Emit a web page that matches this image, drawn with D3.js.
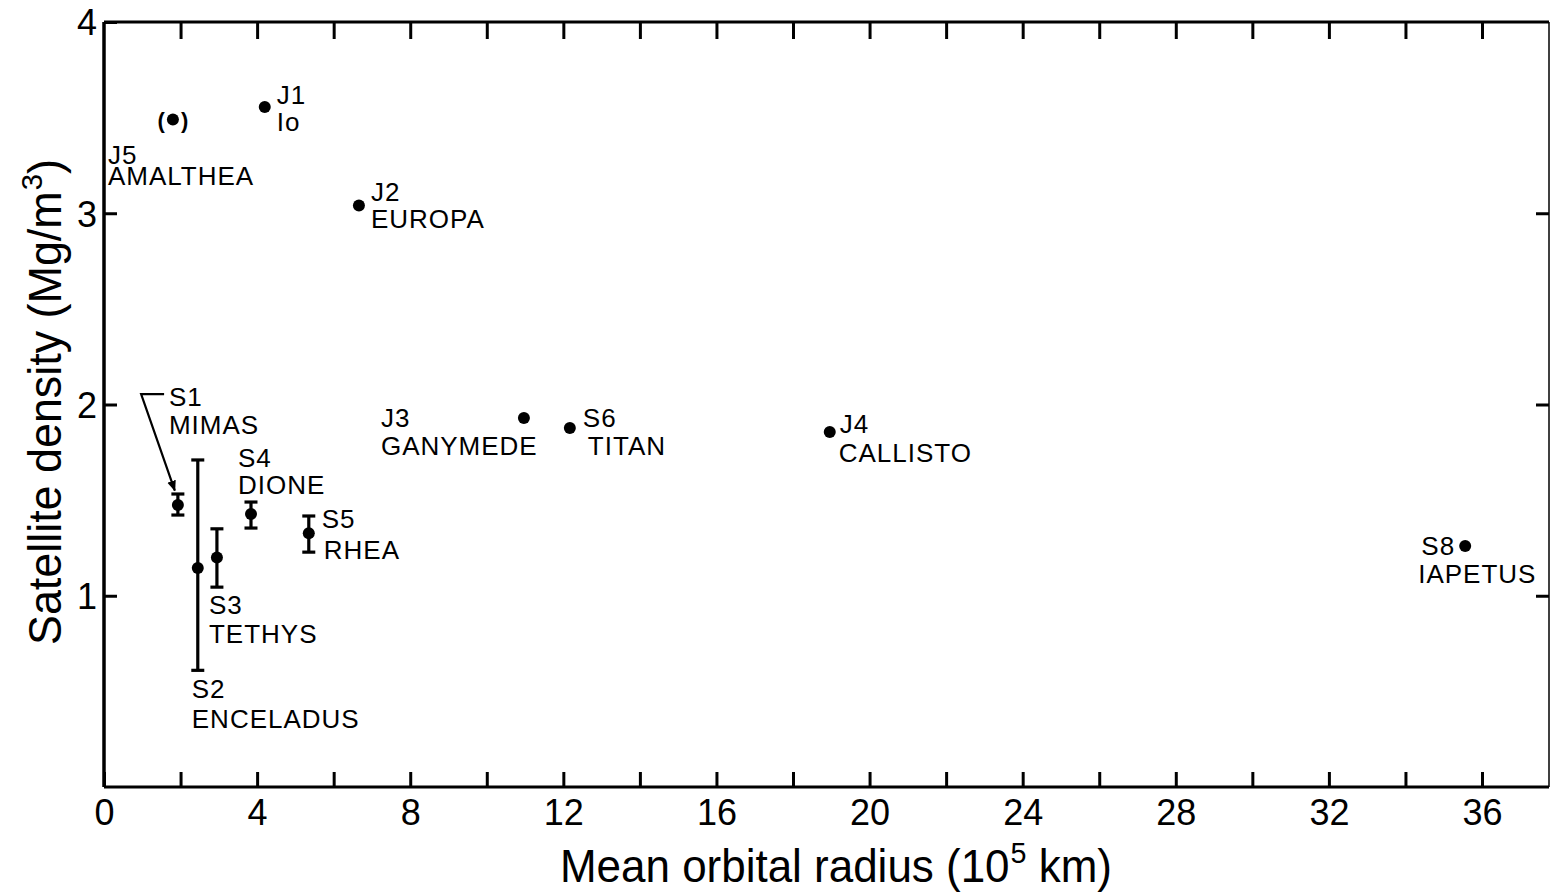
<!DOCTYPE html>
<html><head><meta charset="utf-8">
<script src="https://cdn.jsdelivr.net/npm/d3@7"></script>
<style>
html,body{margin:0;padding:0;background:#fff;}
svg{display:block;font-family:"Liberation Sans",Arial,sans-serif;}
svg text{white-space:pre;}
</style></head>
<body><svg id="chart" width="1551" height="894"></svg>
<script>
// ---- data ----
const codes   = ["J5","J1","J2","J3","J4","S1","S2","S3","S4","S5","S6","S8"];
const names   = ["AMALTHEA","Io","EUROPA","GANYMEDE","CALLISTO","MIMAS","ENCELADUS","TETHYS","DIONE","RHEA","TITAN","IAPETUS"];
const radius  = [1.80, 4.20, 6.66, 10.97, 18.96, 1.93, 2.45, 2.95, 3.84, 5.35, 12.17, 35.56]; // 10^5 km
const density = [3.49, 3.555, 3.04, 1.93, 1.856, 1.474, 1.145, 1.20, 1.427, 1.327, 1.877, 1.26]; // Mg/m^3
const errLow  = [null, null, null, null, null, 1.422, 0.61, 1.045, 1.354, 1.228, null, null];
const errHigh = [null, null, null, null, null, 1.532, 1.71, 1.35, 1.49, 1.417, null, null];
const uncertain = ["J5"];               // plotted in parentheses
const xTicks = d3.range(0, 37, 2);
const xLabels = [0, 4, 8, 12, 16, 20, 24, 28, 32, 36];
const yTicks = [1, 2, 3, 4];
const xTitle = ["Mean orbital radius (10", "5", " km)"];
const yTitle = ["Satellite density (Mg/m", "3", ")"];
// Mimas leader (data units): label end -> bend -> arrow tip
const mimasLeader = [[1.57, 2.054], [0.97, 2.054], [1.85, 1.55]];

// label placement (style/layout): [dx, dy of first baseline, dx2, line gap, anchor]
const labelPos = {
  J5: [-65, 44, -65, 21, "start"],
  J1: [12, -3, 12, 27, "start"],
  J2: [12, -5, 12, 27, "start"],
  J3: [-143, 9, -143, 28, "start"],
  J4: [10, 1, 9, 29, "start"],
  S1: [-9, -99, -9, 28, "start"],
  S2: [-6, 130, -6, 30, "start"],
  S3: [-8, 56, -8, 29, "start"],
  S4: [-13, -47, -13, 27, "start"],
  S5: [13, -5, 15, 31, "start"],
  S6: [13, -1, 18, 28, "start"],
  S8: [-10, 9, -47, 28, "end"]
};

const svg = d3.select("#chart");
const x = d3.scaleLinear().domain([0, 37.75]).range([104, 1549]);
const y = d3.scaleLinear().domain([0, 4]).range([787, 22]);

const g = svg.append("g");

// frame
g.append("line").attr("x1", x(0)).attr("x2", x(0)).attr("y1", y(4)).attr("y2", y(0)).attr("stroke", "#000").attr("stroke-width", 3.5);
g.append("line").attr("x1", x(0)).attr("x2", x(37.75)).attr("y1", y(4)).attr("y2", y(4)).attr("stroke", "#000").attr("stroke-width", 3);
g.append("line").attr("x1", x(0)).attr("x2", x(37.75)).attr("y1", y(0)).attr("y2", y(0)).attr("stroke", "#000").attr("stroke-width", 3);
g.append("line").attr("x1", x(37.75)).attr("x2", x(37.75)).attr("y1", y(4)).attr("y2", y(0)).attr("stroke", "#000").attr("stroke-width", 1.5);

// bottom axis
const xb = d3.axisBottom(x).tickValues(xTicks).tickSizeInner(-15).tickSizeOuter(0).tickPadding(12)
  .tickFormat(d => xLabels.includes(d) ? String(d) : "");
const gxb = g.append("g").attr("transform", `translate(0,${y(0)})`).call(xb);
// top axis
const xt = d3.axisTop(x).tickValues(xTicks.filter(d => d > 0)).tickSizeInner(-17).tickSizeOuter(0).tickFormat("");
const gxt = g.append("g").attr("transform", `translate(0,${y(4)})`).call(xt);
// left axis
const yl = d3.axisLeft(y).tickValues(yTicks).tickSizeInner(-13).tickSizeOuter(0).tickPadding(7).tickFormat(d3.format("d"));
const gyl = g.append("g").attr("transform", `translate(${x(0)},0)`).call(yl);
// right axis
const yr = d3.axisRight(y).tickValues(yTicks.filter(d => d < 4)).tickSizeInner(-13).tickSizeOuter(0).tickFormat("");
const gyr = g.append("g").attr("transform", `translate(${x(37.75)},0)`).call(yr);

[gxb, gxt, gyl, gyr].forEach(a => {
  a.select(".domain").remove();
  a.selectAll(".tick line").attr("stroke", "#000").attr("stroke-width", 3);
  a.selectAll(".tick text").attr("fill", "#000").attr("font-size", 36);
});
gyl.selectAll(".tick text").attr("dy", "0.36em");

// axis titles: base text + raised superscript + tail, laid out by measurement, squeezed to width
function title(parent, parts, width) {
  const grp = parent.append("g");
  const t1 = grp.append("text").attr("font-size", 46).attr("x", 0).attr("y", 0).text(parts[0]);
  const w1 = t1.node().getComputedTextLength();
  const t2 = grp.append("text").attr("font-size", 30).attr("x", w1 + 1).attr("y", -19).text(parts[1]);
  const w2 = t2.node().getComputedTextLength();
  const t3 = grp.append("text").attr("font-size", 46).attr("x", w1 + w2 + 1).attr("y", 0)
    .attr("xml:space", "preserve").text(parts[2]);
  const w3 = t3.node().getComputedTextLength();
  const total = w1 + w2 + w3 + 1;
  return {grp, k: width / total, total};
}
const tx = title(g, xTitle, 552);
tx.grp.attr("transform", `translate(836,882) scale(${tx.k},1) translate(${-tx.total / 2},0)`);
const ty = title(g, yTitle, 486);
ty.grp.attr("transform", `translate(61,402) rotate(-90) scale(${ty.k},1) translate(${-ty.total / 2},0)`);

// data rows
const rows = codes.map((c, i) => ({code: c, name: names[i], r: radius[i], d: density[i], lo: errLow[i], hi: errHigh[i]}));

// error bars
const eb = g.append("g").attr("stroke", "#000").attr("stroke-width", 3.2);
rows.filter(d => d.lo != null).forEach(d => {
  eb.append("line").attr("x1", x(d.r)).attr("x2", x(d.r)).attr("y1", y(d.lo)).attr("y2", y(d.hi));
  [d.lo, d.hi].forEach(v => eb.append("line").attr("x1", x(d.r) - 6.5).attr("x2", x(d.r) + 6.5).attr("y1", y(v)).attr("y2", y(v)));
});

// points
g.append("g").selectAll("circle").data(rows).join("circle")
  .attr("cx", d => x(d.r)).attr("cy", d => y(d.d)).attr("r", 6).attr("fill", "#000");

// parentheses for uncertain
rows.filter(d => uncertain.includes(d.code)).forEach(d => {
  g.append("text").attr("x", x(d.r) - 8).attr("y", y(d.d) + 8).attr("text-anchor", "end")
    .attr("font-size", 22).attr("font-weight", "bold").text("(");
  g.append("text").attr("x", x(d.r) + 8).attr("y", y(d.d) + 8).attr("text-anchor", "start")
    .attr("font-size", 22).attr("font-weight", "bold").text(")");
});

// labels (code line + name line in one text element)
const lab = g.append("g").attr("font-size", 26).attr("letter-spacing", 1).attr("fill", "#000");
rows.forEach(d => {
  const p = labelPos[d.code];
  const px = x(d.r), py = y(d.d);
  const t = lab.append("text");
  t.append("tspan").attr("x", px + p[0]).attr("y", py + p[1]).attr("text-anchor", p[4]).text(d.code);
  t.append("tspan").attr("x", px + p[2]).attr("y", py + p[1] + p[3]).attr("text-anchor", "start").text(d.name);
});

// Mimas leader with arrow
const defs = svg.append("defs");
defs.append("marker").attr("id", "arr").attr("viewBox", "0 0 10 10").attr("refX", 9).attr("refY", 5)
  .attr("markerWidth", 5).attr("markerHeight", 5).attr("orient", "auto")
  .append("path").attr("d", "M0,1 L10,5 L0,9 Z").attr("fill", "#000");
g.append("path")
  .attr("d", d3.line().x(d => x(d[0])).y(d => y(d[1]))(mimasLeader))
  .attr("fill", "none").attr("stroke", "#000").attr("stroke-width", 2.2).attr("marker-end", "url(#arr)");
</script>
</body></html>
